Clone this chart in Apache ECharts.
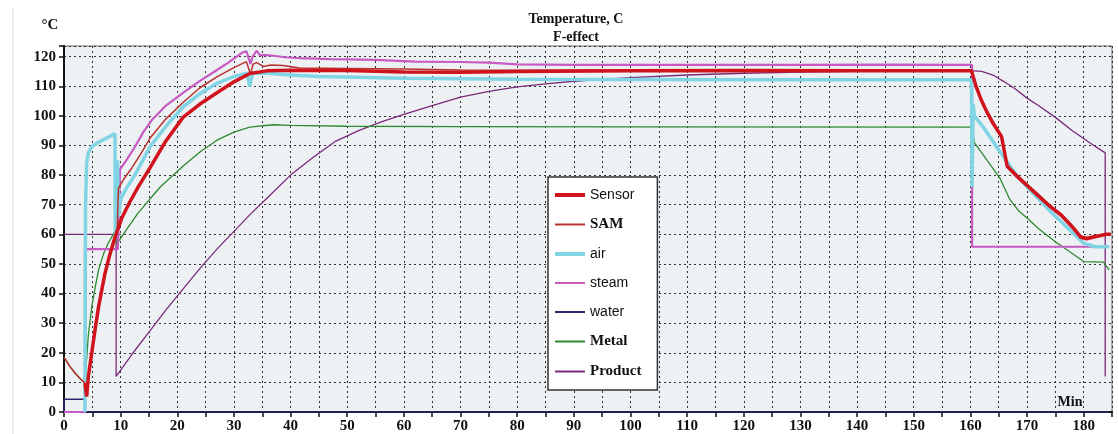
<!DOCTYPE html>
<html>
<head>
<meta charset="utf-8">
<script src="https://cdn.jsdelivr.net/npm/echarts@6/dist/echarts.min.js"></script>
<style>
html,body{margin:0;padding:0;background:#fff;}
#chart{width:1118px;height:434px;}
</style>
</head>
<body>
<div id="chart"></div>
<script>
// ---- data: [minute, °C] ----
const sensorData = [[3.7,9.8],[4.0,5.2],[4.3,12],[4.9,20],[5.5,28],[6.1,35.5],[7.2,46.5],[8,52.5],[9,59],[10.2,65.5],[11.5,70.5],[13.1,76],[15.2,82.5],[17.8,91],[21,99.5],[24,104],[27,107.8],[30,111.5],[32.8,114.3],[35.8,115.2],[40,115.4],[50,115.3],[60,114.8],[70,114.7],[80,115],[100,115.2],[120,115.3],[140,115.2],[160.2,115.2],[161,110],[162,105],[163,101],[164,97.5],[165.5,93],[166.5,83],[168,80],[170,76.5],[172,73],[174,69.5],[176,66.5],[178,62.5],[179.5,59],[180.5,58.5],[182,59.2],[184,60],[184.8,60]];
const samData = [[0,18.5],[1,15.5],[2,13],[3,11],[3.7,9.8],[4.0,6],[4.9,20.5],[6.1,36],[7.2,47],[8,53],[9,59.5],[9.4,62],[9.6,75.5],[10.5,78.5],[12,82.5],[13.5,87],[15.2,92.5],[18,99],[21,104.5],[24,109.5],[27,113.2],[30,116.3],[32.2,118.3],[32.6,116],[32.9,114],[33.4,117.5],[34,118],[35.2,116.7],[36.5,117.2],[38.7,117],[41.6,116.2],[50,116],[60,115.8],[70,115.5],[80,115.4],[100,115.5],[120,115.6],[140,115.6],[160.2,115.6],[161,110.5],[162,105.5],[163,101.5],[164,98],[165.5,93.5],[166.5,83.5],[168,80.5],[170,77],[172,73.5],[174,70],[176,67],[178,63],[179.5,59.5],[180.5,59],[182,59.5],[184,60.2],[184.8,60.2]];
const airData = [[3.7,0],[3.8,70],[4.0,84],[4.3,87.5],[4.9,89.6],[6,91],[7.5,92.5],[9,94],[9.05,60],[9.3,72],[9.45,85],[9.6,66],[10,72],[11,75.5],[12.5,80],[15.2,89.6],[18,96.5],[21,103],[24,107.5],[27,111],[30,113.3],[32.3,114.4],[32.8,110],[33.3,114.5],[36,114.4],[40,113.8],[45,113.3],[60,112.7],[80,112.4],[100,112.3],[130,112.2],[160.2,112.2],[160.3,76],[160.5,104],[160.7,100],[162.2,96.4],[165.2,88],[168.1,80],[171,74],[174,68],[177,62.5],[180,57],[182,55.8],[184.5,55.8]];
const steamData = [[0,0],[3.7,0],[3.7,55],[9.5,55],[9.6,62],[9.9,82],[11,85],[12.5,89.5],[14,94.5],[15.5,98.6],[18,103.5],[21,107.8],[24,111.8],[27,115.5],[29,118],[31.6,121.5],[32.2,121.8],[32.6,119.5],[32.9,117.5],[33.3,120],[34,122],[34.6,120.5],[35.8,120.5],[37,120.3],[39,119.8],[41.6,119.5],[47,119.2],[55,118.9],[62,118.3],[70,118.2],[75,118],[80,117.4],[90,117.2],[100,117.2],[118,117.2],[130,117.2],[145,117.3],[160.3,117.2],[160.3,55.8],[184.5,55.8]];
const waterData = [[0,0],[0,4.3],[3.7,4.3],[3.7,0],[184.5,0]];
const metalData = [[0,18.5],[1,15.5],[2,13],[3,11],[3.7,9.8],[3.9,15.5],[4.3,26],[4.9,35.5],[5.5,42],[6.1,48],[7,53.5],[7.8,57],[9,61],[9.3,56.5],[9.6,57.5],[11,61.5],[13,67],[15.2,72],[17,76],[19,79.5],[21,83],[24,87.8],[27,91.8],[30,94.5],[32.8,96.2],[36.9,97],[40,96.8],[50,96.5],[70,96.4],[100,96.3],[160.3,96.2],[160.7,91],[162.2,87],[163.5,83.5],[165.2,79],[166.9,72],[168.5,68],[170,65.5],[172,62],[175,57.5],[178,53.5],[180,50.8],[183.5,50.6],[184.5,48]];
const productData = [[0,60],[9.2,60],[9.2,12],[12,19.5],[15,27],[18,34.5],[21,41.5],[24,48.5],[27,55],[30,61],[33,67],[36,72.5],[40,80],[44,86],[48,91.5],[52,95],[56,98],[60,100.5],[65,103.5],[70,106.3],[75,108.3],[80,109.8],[85,110.8],[90,111.7],[95,112.3],[100,112.9],[110,113.8],[120,114.4],[130,114.8],[140,115],[150,115.2],[160,115.3],[162,115],[164,113.8],[166,111.5],[168,109],[170,106],[172,103.5],[175,99.5],[178,95],[181,91],[183.8,87.5],[183.8,12]];

const seriesNames = ['Sensor','SAM','air','steam','water','Metal','Product'];
const titleLines = ['Temperature, C','F-effect'];
const yUnit = '°C';
const xUnit = 'Min';

const chart = echarts.init(document.getElementById('chart'), null, {renderer:'canvas'});
const serifBold = {fontFamily:'Liberation Serif', fontWeight:'bold', fontSize:15, color:'#111'};
const sans = {fontFamily:'Liberation Sans', fontSize:14, color:'#111'};
const thickIcon = 'path://M0,0h30v4h-30z';
const thinIcon = 'path://M0,0h30v2h-30z';

function mk(name, data, color, width, z){
  return {name, type:'line', data, symbol:'none', showSymbol:false, z,
    lineStyle:{color, width}, itemStyle:{color}, animation:false, clip:true};
}

chart.setOption({
  animation:false,
  backgroundColor:'#ffffff',
  grid:{left:64, right:6, top:46, bottom:22, show:true, backgroundColor:'#edf1f4', borderColor:'#666', borderWidth:1},
  xAxis:{type:'value', min:0, max:185, interval:5,
    axisLine:{show:true, lineStyle:{color:'#111', width:2}},
    axisTick:{show:true, length:5, lineStyle:{color:'#111', width:1.5}},
    axisLabel:{...serifBold, margin:7, formatter:v => (v % 10 === 0 ? String(v) : '')},
    splitLine:{show:true, lineStyle:{color:'#333', width:1, type:[2,3]}}
  },
  yAxis:{type:'value', min:0, max:123.6, interval:10,
    axisLine:{show:true, lineStyle:{color:'#111', width:2}},
    axisTick:{show:true, length:5, lineStyle:{color:'#111', width:1.5}},
    axisLabel:{...serifBold, margin:8, formatter:v => (v % 10 === 0 ? String(v) : '')},
    splitLine:{show:true, lineStyle:{color:'#333', width:1, type:[2,3]}}
  },
  legend:{orient:'vertical', left:548, top:177, padding:[11,16,11,7], itemGap:15,
    itemWidth:30, itemHeight:14, symbolKeepAspect:true, backgroundColor:'#ffffff', borderColor:'#333', borderWidth:1.5,
    data:[
      {name:'Sensor', icon:thickIcon, textStyle:sans},
      {name:'SAM', icon:thinIcon, textStyle:serifBold},
      {name:'air', icon:thickIcon, textStyle:sans},
      {name:'steam', icon:thinIcon, textStyle:sans},
      {name:'water', icon:thinIcon, textStyle:sans},
      {name:'Metal', icon:thinIcon, textStyle:serifBold},
      {name:'Product', icon:thinIcon, textStyle:serifBold}
    ]
  },
  graphic:[
    {type:'text', x:576, y:19, style:{text:titleLines[0], align:'center', verticalAlign:'middle', font:'bold 14px "Liberation Serif"', fill:'#111'}},
    {type:'text', x:576, y:37, style:{text:titleLines[1], align:'center', verticalAlign:'middle', font:'bold 14px "Liberation Serif"', fill:'#111'}},
    {type:'text', x:50, y:25, style:{text:yUnit, align:'center', verticalAlign:'middle', font:'bold 15px "Liberation Serif"', fill:'#111'}},
    {type:'text', x:1070, y:402, style:{text:xUnit, align:'center', verticalAlign:'middle', font:'bold 14px "Liberation Serif"', fill:'#111'}},
    {type:'line', shape:{x1:13, y1:8, x2:13, y2:434}, style:{stroke:'#dcdcdc', lineWidth:1}}
  ],
  series:[
    mk(seriesNames[0], sensorData, '#d0141e', 3.5, 10),
    mk(seriesNames[1], samData, '#b8322c', 1.5, 9),
    mk(seriesNames[2], airData, '#80d4e4', 3.5, 8),
    mk(seriesNames[3], steamData, '#c85ac4', 2.2, 7),
    mk(seriesNames[4], waterData, '#2a2a72', 1.5, 5),
    mk(seriesNames[5], metalData, '#2e8a2e', 1.3, 6),
    mk(seriesNames[6], productData, '#7a2a7a', 1.3, 4)
  ]
});
</script>
</body>
</html>
